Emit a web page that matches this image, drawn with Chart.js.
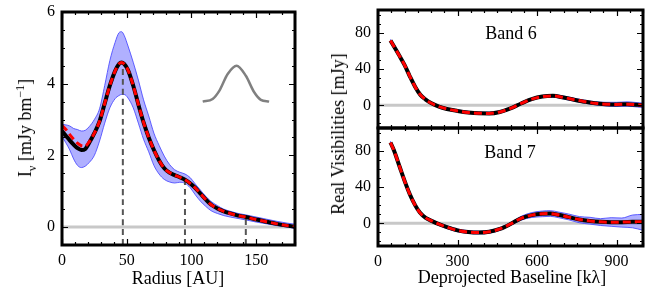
<!DOCTYPE html>
<html>
<head>
<meta charset="utf-8">
<script src="https://cdn.jsdelivr.net/npm/chart.js@4.4.1/dist/chart.umd.min.js"></script>
<style>
  html,body{margin:0;padding:0;background:#fff;}
  body{width:664px;height:292px;position:relative;overflow:hidden;font-family:"Liberation Serif",serif;color:#000;}
  canvas{position:absolute;}
  .t{position:absolute;white-space:nowrap;font-size:18px;line-height:1;transform:translate(-50%,-50%);}
  .rot{transform:translate(-50%,-50%) rotate(-90deg);}
  sub,sup{font-size:12px;line-height:0;}
</style>
</head>
<body>
<canvas id="c1" width="310" height="292" style="left:0;top:0;width:310px;height:292px"></canvas>
<canvas id="c2" width="344" height="146" style="left:320px;top:0;width:344px;height:146px"></canvas>
<canvas id="c3" width="344" height="174" style="left:320px;top:118px;width:344px;height:174px"></canvas>
<div class="t rot" style="left:25px;top:128px">I<sub>ν</sub> [mJy bm<sup>−1</sup>]</div>
<div class="t" style="left:178px;top:278px">Radius [AU]</div>
<div class="t rot" style="left:338px;top:134px">Real Visibilities [mJy]</div>
<div class="t" style="left:512px;top:277px">Deprojected Baseline [kλ]</div>
<div class="t" style="left:511px;top:33px">Band 6</div>
<div class="t" style="left:510px;top:152px">Band 7</div>
<script>
// ---------- Left panel: radial intensity profile ----------
const radius      = [0,3,6,9,12,15,18,21,25,29,33,37,41,44,46,48,51,55,59,63,67,71,75,79,83,87,91,95,99,103,107,111,115,120,125,130,136,142,150,158,166,174,180];
const profileFit  = [2.68,2.55,2.42,2.30,2.20,2.15,2.18,2.35,2.62,2.95,3.45,3.95,4.35,4.55,4.59,4.55,4.38,3.95,3.42,2.92,2.50,2.15,1.86,1.64,1.52,1.45,1.39,1.32,1.22,1.09,0.93,0.77,0.63,0.52,0.44,0.38,0.32,0.28,0.21,0.15,0.09,0.04,0.01];
const profileMod  = [2.83,2.72,2.58,2.45,2.34,2.27,2.26,2.38,2.62,2.95,3.45,3.95,4.35,4.55,4.59,4.55,4.38,3.95,3.42,2.92,2.50,2.15,1.86,1.64,1.52,1.45,1.39,1.32,1.22,1.09,0.93,0.77,0.63,0.52,0.44,0.38,0.32,0.28,0.21,0.15,0.09,0.04,0.01];
const profileHigh = [2.87,2.85,2.82,2.75,2.72,2.68,2.70,2.80,3.00,3.30,3.95,4.65,5.15,5.42,5.45,5.35,5.05,4.60,4.10,3.55,3.10,2.62,2.28,1.98,1.75,1.60,1.53,1.48,1.38,1.20,1.03,0.86,0.72,0.60,0.50,0.44,0.38,0.34,0.28,0.22,0.16,0.11,0.08];
const profileLow  = [2.52,2.35,2.15,1.90,1.72,1.66,1.70,1.80,2.00,2.40,2.90,3.33,3.58,3.67,3.70,3.70,3.60,3.33,2.90,2.45,2.10,1.72,1.48,1.33,1.26,1.23,1.25,1.22,1.10,0.90,0.72,0.58,0.46,0.38,0.32,0.28,0.24,0.20,0.14,0.09,0.04,0.00,-0.04];
const ringRadii   = [47, 95, 142];
const ringTops    = [4.57, 1.33, 0.28];
const beamR       = [108.7,116.4,121.5,128,134.9,142,148.5,153.6,160];
const beamI       = [3.50,3.575,3.80,4.27,4.50,4.22,3.76,3.55,3.50];
const radiusLabels = [0,50,100,150];
const intensityLabels = [0,2,4,6];

// ---------- Right panels: visibilities ----------
const baseline6 = [47,60,80,100,120,140,160,180,200,230,260,300,340,380,420,460,500,540,580,620,660,700,740,780,820,860,900,940,980,1000];
const vis6      = [71.5,65,55,44.5,32,20.5,11.5,6.3,2.5,-1.5,-4,-6.2,-7.9,-8.8,-8.9,-7.3,-3.4,2,6.8,9.6,10.4,8.6,6.2,4,2.2,1.3,1,1.3,0.6,0];
const vis6High  = [72.7,66.2,56.2,45.7,33.2,21.7,12.7,7.5,3.7,-0.3,-2.8,-5,-6.7,-7.6,-7.7,-6.1,-2.2,3.2,8,10.8,11.8,10.2,7.8,5.6,4,3.3,3.3,3.8,2.9,2.5];
const vis6Low   = [70.3,63.8,53.8,43.3,30.8,19.3,10.3,5.1,1.3,-2.7,-5.2,-7.4,-9.1,-10,-10.1,-8.5,-4.6,0.8,5.6,8.4,9,7,4.6,2.4,0.5,-0.7,-1.2,-1,-1.9,-2.5];
const baseline7 = [47,60,82,100,120,140,158,180,200,230,260,300,340,380,420,460,500,540,580,620,650,680,720,760,800,840,880,920,960,1000];
const vis7      = [89,80.5,62,47,32,20,11.8,6,3,-1,-4.3,-7.8,-9.6,-10.2,-9.3,-6.2,-0.8,5.5,9,10.5,10.7,9.5,6.8,4.2,2.6,1.6,1.2,1.3,1.6,1.8];
const vis7High  = [90.5,82,63.5,48.5,33.5,21.5,13.3,7.5,4.5,0.5,-2.8,-6.3,-8.1,-8.7,-7.8,-4.7,0.7,7.7,11.8,13.5,13.9,12.5,10.2,7.4,6.6,5.1,6.2,5.8,9.1,9.8];
const vis7Low   = [87.5,79,60.5,45.5,30.5,18.5,10.3,4.5,1.5,-2.5,-5.8,-9.3,-11.1,-11.7,-10.8,-7.7,-2.3,3.5,6.4,7.3,7.7,6.3,3.8,0.6,-0.9,-2.4,-3.3,-4.2,-4.9,-7.7];
const baselineLabels = [0,300,600,900];
const visLabels = [0,40,80];

// ---------- helpers ----------
const pts = (xs, ys) => xs.map((x,i)=>({x, y: ys[i]}));
const isMult = (v, m) => Math.abs(v/m - Math.round(v/m)) < 1e-6;
const FONT = {family: '"Liberation Serif", serif', size: 16};
const YFONT = {family: '"Liberation Serif", serif', size: 16, lineHeight: 0.3};
const RED = '#ff0000', BAND_FILL = 'rgba(80,80,255,0.45)', BAND_EDGE = 'rgba(70,70,255,0.85)';

const frameTicks = {
  id: 'frameTicks',
  afterDraw(chart, args, o) {
    const {ctx, chartArea: a, scales} = chart;
    ctx.save();
    ctx.strokeStyle = '#000';
    ctx.lineWidth = 1.2;
    ctx.beginPath();
    scales.x.ticks.forEach(t => {
      if (!isMult(t.value, o.xMinor)) return;
      const px = Math.round(scales.x.getPixelForValue(t.value)) + 0.5;
      const L = isMult(t.value, o.xMajor) ? 6 : 3;
      ctx.moveTo(px, a.bottom); ctx.lineTo(px, a.bottom - L);
      ctx.moveTo(px, a.top); ctx.lineTo(px, a.top + L);
    });
    scales.y.ticks.forEach(t => {
      if (!isMult(t.value, o.yMinor)) return;
      const py = Math.round(scales.y.getPixelForValue(t.value)) + 0.5;
      const L = isMult(t.value, o.yMajor) ? 6 : 3;
      ctx.moveTo(a.left, py); ctx.lineTo(a.left + L, py);
      ctx.moveTo(a.right, py); ctx.lineTo(a.right - L, py);
    });
    ctx.stroke();
    ctx.lineWidth = 3;
    ctx.strokeRect(a.left, a.top, a.right - a.left, a.bottom - a.top);
    ctx.restore();
  }
};

function line(data, color, width, order, extra) {
  return Object.assign({data, borderColor: color, borderWidth: width, pointRadius: 0,
    cubicInterpolationMode: 'monotone', fill: false, order}, extra || {});
}

function makeChart(id, datasets, cfg) {
  return new Chart(document.getElementById(id), {
    type: 'line',
    data: {datasets},
    plugins: [frameTicks],
    options: {
      responsive: false, animation: false, devicePixelRatio: 1,
      events: [],
      layout: {padding: cfg.padding},
      plugins: {legend: {display: false}, tooltip: {enabled: false}, frameTicks: cfg.ticks},
      scales: {
        x: {type: 'linear', min: cfg.xmin, max: cfg.xmax, border: {display: false},
            grid: {display: false, drawTicks: false},
            afterFit: s => { s.height = cfg.xh; },
            ticks: {display: cfg.xlabels !== null, stepSize: cfg.xstep, autoSkip: false, maxRotation: 0, minRotation: 0,
                    padding: 6, color: '#000', font: FONT,
                    callback: v => (cfg.xlabels && cfg.xlabels.some(l => Math.abs(l - v) < 1e-6)) ? String(v) : ''}},
        y: {type: 'linear', min: cfg.ymin, max: cfg.ymax, border: {display: false},
            grid: {display: false, drawTicks: false},
            afterFit: s => { s.width = cfg.yw; },
            ticks: {stepSize: cfg.ystep, autoSkip: false, padding: 7, color: '#000', font: YFONT,
                    callback: v => cfg.ylabels.some(l => Math.abs(l - v) < 1e-6) ? String(v) : ''}}
      }
    }
  });
}

// Left panel datasets
const leftSets = [
  line(pts(radius, profileMod), RED, 3, 0, {borderDash: [7, 4]}),
  line(pts(radius, profileFit), '#000', 4, 1),
  line(pts(beamR, beamI), '#808080', 2.5, 2),
];
ringRadii.forEach((r, i) => leftSets.push(line([{x: r, y: -0.5}, {x: r, y: ringTops[i]}], '#555', 2, 3, {borderDash: [6, 4]})));
leftSets.push(line(pts(radius, profileHigh), BAND_EDGE, 1, 5, {fill: {target: '+1'}, backgroundColor: BAND_FILL}));
leftSets.push(line(pts(radius, profileLow), BAND_EDGE, 1, 6));
leftSets.push(line([{x: 0, y: 0}, {x: 180, y: 0}], '#c8c8c8', 3, 9));

makeChart('c1', leftSets, {
  padding: {top: 12, right: 15, left: 0, bottom: 0},
  xmin: 0, xmax: 180, xstep: 10, xh: 47, xlabels: radiusLabels,
  ymin: -0.5, ymax: 6, ystep: 0.5, yw: 62, ylabels: intensityLabels,
  ticks: {xMinor: 10, xMajor: 50, yMinor: 0.5, yMajor: 2}
});

function visSets(b, v, hi, lo) {
  return [
    line(pts(b, v), RED, 3, 0, {borderDash: [8, 4]}),
    line(pts(b, v), '#000', 4, 1),
    line(pts(b, hi), BAND_EDGE, 1, 5, {fill: {target: '+1'}, backgroundColor: BAND_FILL}),
    line(pts(b, lo), BAND_EDGE, 1, 6),
    line([{x: 0, y: 0}, {x: 1000, y: 0}], '#c8c8c8', 3, 9)
  ];
}

makeChart('c2', visSets(baseline6, vis6, vis6High, vis6Low), {
  padding: {top: 10, right: 21, left: 0, bottom: 0},
  xmin: 0, xmax: 1000, xstep: 50, xh: 18, xlabels: null,
  ymin: -25, ymax: 105, ystep: 5, yw: 58, ylabels: visLabels,
  ticks: {xMinor: 50, xMajor: 300, yMinor: 10, yMajor: 40}
});

makeChart('c3', visSets(baseline7, vis7, vis7High, vis7Low), {
  padding: {top: 10, right: 21, left: 0, bottom: 0},
  xmin: 0, xmax: 1000, xstep: 50, xh: 46, xlabels: baselineLabels,
  ymin: -25, ymax: 105, ystep: 5, yw: 58, ylabels: visLabels,
  ticks: {xMinor: 50, xMajor: 300, yMinor: 10, yMajor: 40}
});
</script>
</body>
</html>
